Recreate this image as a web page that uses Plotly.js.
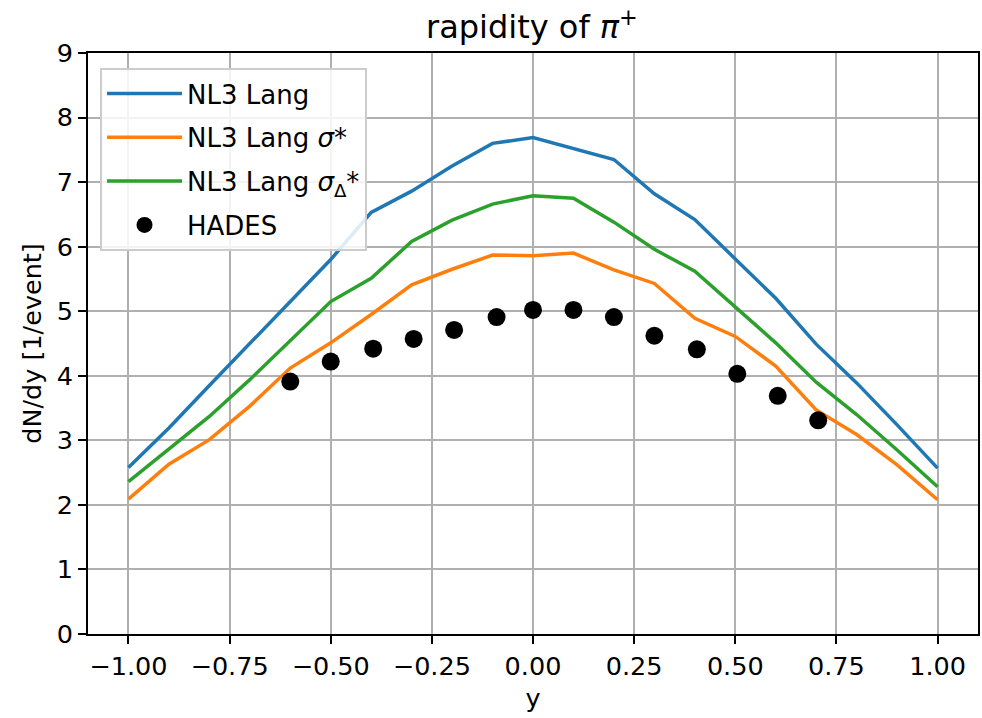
<!DOCTYPE html>
<html>
<head>
<meta charset="utf-8">
<script src="https://cdn.plot.ly/plotly-3.0.1.min.js"></script>
<style>html,body{margin:0;padding:0;background:#fff;}#chart{width:982px;height:718px;}</style>
</head>
<body>
<div id="chart"></div>
<script>
// rapidity grid for model curves
const yModel = [-1.0,-0.9,-0.8,-0.7,-0.6,-0.5,-0.4,-0.3,-0.2,-0.1,0.0,0.1,0.2,0.3,0.4,0.5,0.6,0.7,0.8,0.9,1.0];
const nl3Lang = [2.58,3.19,3.85,4.50,5.15,5.80,6.53,6.86,7.25,7.60,7.69,7.52,7.35,6.82,6.42,5.81,5.20,4.49,3.89,3.24,2.57];
const nl3LangSigma = [2.09,2.63,3.01,3.53,4.12,4.51,4.95,5.41,5.65,5.87,5.86,5.90,5.64,5.43,4.89,4.61,4.15,3.47,3.09,2.62,2.08];
const nl3LangSigmaDelta = [2.36,2.86,3.37,3.94,4.55,5.15,5.51,6.08,6.41,6.66,6.79,6.75,6.38,5.96,5.62,5.07,4.51,3.90,3.40,2.85,2.28];
// HADES data
const yHades = [-0.6,-0.5,-0.395,-0.295,-0.195,-0.09,0.0,0.1,0.2,0.3,0.405,0.505,0.605,0.705];
const dndyHades = [3.91,4.22,4.42,4.57,4.71,4.91,5.02,5.02,4.91,4.62,4.41,4.03,3.69,3.31];
// tick labels
const xTickVals = [-1.0,-0.75,-0.5,-0.25,0.0,0.25,0.5,0.75,1.0];
const xTickText = ["\u22121.00","\u22120.75","\u22120.50","\u22120.25","0.00","0.25","0.50","0.75","1.00"];
const yTickVals = [0,1,2,3,4,5,6,7,8,9];
const yTickText = ["0","1","2","3","4","5","6","7","8","9"];

const font = "DejaVu Sans, sans-serif";
const traces = [
  {x: yModel, y: nl3Lang, mode: "lines", name: "NL3 Lang", legendgroup: "a",
   line: {color: "#1f77b4", width: 3.5}},
  {x: yModel, y: nl3LangSigma, mode: "lines", name: "NL3 Lang <i>σ</i>*", legendgroup: "b",
   line: {color: "#ff7f0e", width: 3.5}},
  {x: yModel, y: nl3LangSigmaDelta, mode: "lines", name: "NL3 Lang <i>σ</i><sub>Δ</sub>*", legendgroup: "c",
   line: {color: "#2ca02c", width: 3.5}},
  {x: yHades, y: dndyHades, mode: "markers", name: "HADES", legendgroup: "d",
   marker: {color: "#000000", size: 18}}
];
const axisCommon = {
  showline: true, mirror: true, linecolor: "#000", linewidth: 2,
  ticks: "outside", ticklen: 8, tickwidth: 2, tickcolor: "#000",
  showgrid: true, gridcolor: "#b0b0b0", gridwidth: 2, zeroline: false,
  tickfont: {family: font, size: 25.5, color: "#000"}
};
const layout = {
  width: 982, height: 718,
  margin: {l: 88, r: 4, t: 53, b: 84},
  paper_bgcolor: "#fff", plot_bgcolor: "#fff",
  font: {family: font, color: "#000"},
  title: {text: "rapidity of <i>π</i><sup>+</sup>", font: {family: font, size: 32, color: "#000"},
          x: 0.5417, xanchor: "center", y: 0.962, yanchor: "middle"},
  xaxis: Object.assign({}, axisCommon, {
    range: [-1.1, 1.1], tickvals: xTickVals, ticktext: xTickText,
    title: {text: "y", font: {family: font, size: 25.5, color: "#000"}, standoff: 10}
  }),
  yaxis: Object.assign({}, axisCommon, {
    range: [0, 9], tickvals: yTickVals, ticktext: yTickText,
    title: {text: "dN/dy [1/event]", font: {family: font, size: 25.5, color: "#000"}, standoff: 8}
  }),
  showlegend: true,
  legend: {
    x: 0.0135, y: 0.974, xanchor: "left", yanchor: "top",
    bgcolor: "rgba(255,255,255,0.85)", bordercolor: "#cccccc", borderwidth: 2,
    font: {family: font, size: 26, color: "#000"},
    traceorder: "grouped", tracegroupgap: 7, itemwidth: 75
  }
};
Plotly.newPlot("chart", traces, layout, {displayModeBar: false, staticPlot: true});
</script>
</body>
</html>
